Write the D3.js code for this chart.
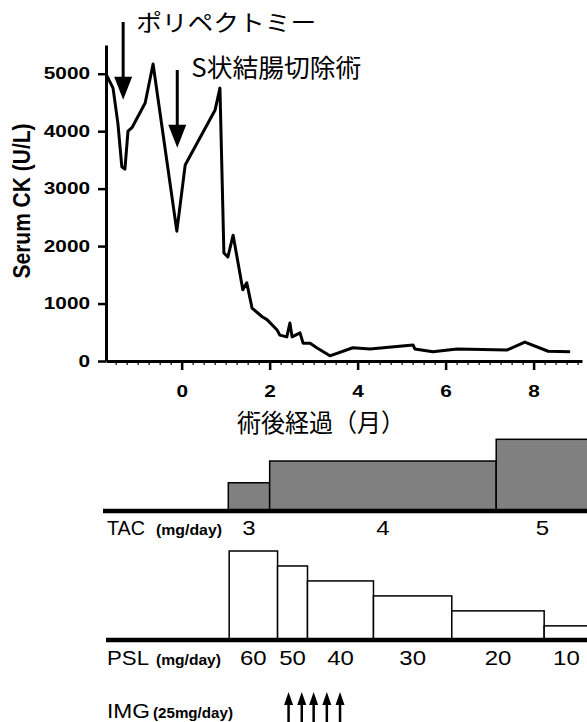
<!DOCTYPE html>
<html>
<head>
<meta charset="utf-8">
<script src="https://cdn.jsdelivr.net/npm/d3@7"></script>
<style>
  body { margin: 0; background: #fff; }
  svg { display: block; font-family: "Liberation Sans", Arial, sans-serif; }
  .jp { font-family: "Noto Sans CJK JP", sans-serif; }
</style>
</head>
<body>
<svg width="587" height="722"></svg>
<script>
// serum CK course (months after surgery)
var months = [-1.71, -1.56, -1.45, -1.36, -1.29, -1.22, -1.13, -0.83, -0.65, -0.11, 0.08, 0.76, 0.87,
  0.96, 1.05, 1.17, 1.39, 1.48, 1.60, 1.83, 1.94, 2.17, 2.23, 2.39, 2.46, 2.51, 2.69, 2.76, 2.92,
  3.07, 3.37, 3.89, 4.28, 5.26, 5.30, 5.71, 6.26, 7.39, 7.80, 8.33, 8.83];
var ck = [4980, 4750, 4140, 3380, 3340, 4000, 4060, 4490, 5170, 2260, 3410, 4370, 4750,
  1880, 1810, 2190, 1240, 1360, 920, 770, 720, 540, 450, 420, 660, 420, 490, 310, 310,
  230, 90, 230, 210, 280, 210, 160, 210, 190, 330, 170, 160];
var yTicks = [0, 1000, 2000, 3000, 4000, 5000];
var xTicks = [0, 2, 4, 6, 8];

// events
var eventNames = ["ポリペクトミー", "S状結腸切除術"];
var eventMonths = [-1.33, -0.10];
var eventFrom = [5900, 5065];
var eventTo = [4545, 3710];

// tacrolimus
var tacStart = [1.06, 2.0, 7.15];
var tacEnd = [2.0, 7.15, 9.25];
var tacDose = [3, 4, 5];

// prednisolone
var pslStart = [1.08, 2.18, 2.86, 4.36, 6.14, 8.24];
var pslEnd = [2.18, 2.86, 4.36, 6.14, 8.24, 9.25];
var pslDose = [60, 50, 40, 30, 20, 10];

// IVIG doses
var imgMonths = [2.43, 2.73, 3.0, 3.30, 3.60];

var svg = d3.select("svg"),
  width = +svg.attr("width");

var x = d3.scaleLinear().domain([-1.72, 9.1]).range([106, 582]);
var y = d3.scaleLinear().domain([0, 5500]).range([361, 45]);

// y axis
var yAxis = svg.append("g")
  .attr("transform", "translate(" + x(-1.72) + ",0)")
  .call(d3.axisLeft(y).tickValues(yTicks).tickFormat(d3.format("d")).tickSize(8).tickSizeOuter(0));
yAxis.select(".domain").attr("stroke-width", 3);
yAxis.selectAll(".tick line").attr("stroke-width", 2.5);
yAxis.selectAll("text")
  .attr("x", -16 / 1.3)
  .attr("transform", "scale(1.3,1)")
  .style("font-size", "16px").style("font-weight", "bold").attr("fill", "#000");

// x axis, minor ticks first
var xMinor = svg.append("g")
  .attr("transform", "translate(0," + y(0) + ")")
  .call(d3.axisBottom(x).tickValues(d3.range(-1.5, 9.01, 0.25)).tickSize(4).tickSizeOuter(0).tickFormat(""));
xMinor.select(".domain").remove();
xMinor.selectAll(".tick line").attr("stroke-width", 1.2);

var xAxis = svg.append("g")
  .attr("transform", "translate(0," + y(0) + ")")
  .call(d3.axisBottom(x).tickValues(xTicks).tickSize(9).tickSizeOuter(0).tickPadding(16));
xAxis.select(".domain").attr("stroke-width", 3);
xAxis.selectAll(".tick line").attr("stroke-width", 2.5);
xAxis.selectAll("text")
  .attr("transform", "scale(1.3,1)")
  .style("font-size", "16px").style("font-weight", "bold").attr("fill", "#000");

// axis titles
svg.append("text")
  .attr("transform", "translate(30,201) scale(1.15,1) rotate(-90)")
  .attr("text-anchor", "middle")
  .style("font-size", "21px").style("font-weight", "bold")
  .text("Serum CK (U/L)");

svg.append("text")
  .attr("class", "jp")
  .attr("x", 321).attr("y", 432)
  .attr("text-anchor", "middle")
  .attr("textLength", 168).attr("lengthAdjust", "spacingAndGlyphs")
  .style("font-size", "25px")
  .text("術後経過（月）");

// CK line
var line = d3.line()
  .x(function(d, i) { return x(months[i]); })
  .y(function(d) { return y(d); });

svg.append("path")
  .datum(ck)
  .attr("d", line)
  .attr("fill", "none")
  .attr("stroke", "#000")
  .attr("stroke-width", 3)
  .attr("stroke-linejoin", "round");

// event arrows and labels
function downArrow(cx, top, tip, hw, hh, sw) {
  svg.append("line")
    .attr("x1", cx).attr("x2", cx).attr("y1", top).attr("y2", tip - hh + 1)
    .attr("stroke", "#000").attr("stroke-width", sw);
  svg.append("path")
    .attr("d", "M" + (cx - hw) + "," + (tip - hh) + "L" + (cx + hw) + "," + (tip - hh) + "L" + cx + "," + tip + "Z")
    .attr("fill", "#000");
}
eventNames.forEach(function(name, i) {
  downArrow(x(eventMonths[i]), y(eventFrom[i]), y(eventTo[i]), 9, 23, 3);
});
svg.append("text").attr("class", "jp")
  .attr("x", x(eventMonths[0]) + 13).attr("y", 31)
  .attr("textLength", 180).attr("lengthAdjust", "spacingAndGlyphs")
  .style("font-size", "23px")
  .text(eventNames[0]);
svg.append("text").attr("class", "jp")
  .attr("x", x(eventMonths[1]) + 14).attr("y", 77)
  .attr("textLength", 170).attr("lengthAdjust", "spacingAndGlyphs")
  .style("font-size", "25px")
  .text(eventNames[1]);

// panel helpers
function label(px, py, s, size, weight, len) {
  var t = svg.append("text").attr("x", px).attr("y", py)
    .style("font-size", size + "px").style("font-weight", weight).text(s);
  if (len) t.attr("textLength", len).attr("lengthAdjust", "spacingAndGlyphs");
  return t;
}
function number(cx, py, s) {
  svg.append("text")
    .attr("transform", "translate(" + cx + "," + py + ") scale(1.2,1)")
    .attr("text-anchor", "middle")
    .style("font-size", "20px")
    .text(s);
}

// TAC panel
var tacBase = 511;
var tacY = d3.scaleLinear().domain([1.7, 5]).range([tacBase, 439.3]);
svg.selectAll(".tac")
  .data(tacDose)
  .enter().append("rect")
  .attr("class", "tac")
  .attr("x", function(d, i) { return x(tacStart[i]); })
  .attr("width", function(d, i) { return x(tacEnd[i]) - x(tacStart[i]); })
  .attr("y", function(d) { return tacY(d); })
  .attr("height", function(d) { return tacBase - tacY(d); })
  .attr("fill", "#808080").attr("stroke", "#000").attr("stroke-width", 1.5);
svg.append("line").attr("x1", 103).attr("x2", width).attr("y1", tacBase).attr("y2", tacBase)
  .attr("stroke", "#000").attr("stroke-width", 4.5);
label(107, 535, "TAC", 21, "normal", 38);
label(156, 535, "(mg/day)", 15, "bold", 66);
tacDose.forEach(function(d, i) { number((x(tacStart[i]) + x(tacEnd[i])) / 2, 535, d); });

// PSL panel
var pslBase = 640;
var pslY = d3.scaleLinear().domain([0.55, 60]).range([pslBase, 551]);
svg.selectAll(".psl")
  .data(pslDose)
  .enter().append("rect")
  .attr("class", "psl")
  .attr("x", function(d, i) { return x(pslStart[i]); })
  .attr("width", function(d, i) { return x(pslEnd[i]) - x(pslStart[i]); })
  .attr("y", function(d) { return pslY(d); })
  .attr("height", function(d) { return pslBase - pslY(d); })
  .attr("fill", "#fff").attr("stroke", "#000").attr("stroke-width", 1.5);
svg.append("line").attr("x1", 106).attr("x2", width).attr("y1", pslBase).attr("y2", pslBase)
  .attr("stroke", "#000").attr("stroke-width", 4.5);
label(107, 665, "PSL", 21, "normal", 42);
label(156, 665, "(mg/day)", 15, "bold", 65);
pslDose.forEach(function(d, i) { number((x(pslStart[i]) + x(pslEnd[i])) / 2, 665, d); });

// IMG arrows
label(107, 718, "IMG", 21, "normal", 43);
label(153, 718, "(25mg/day)", 15, "bold", 80);
imgMonths.forEach(function(m) {
  var cx = x(m);
  svg.append("line").attr("x1", cx).attr("x2", cx).attr("y1", 703).attr("y2", 730)
    .attr("stroke", "#000").attr("stroke-width", 2.5);
  svg.append("path")
    .attr("d", "M" + (cx - 4.5) + ",705L" + (cx + 4.5) + ",705L" + cx + ",692Z")
    .attr("fill", "#000");
});
</script>
</body>
</html>
